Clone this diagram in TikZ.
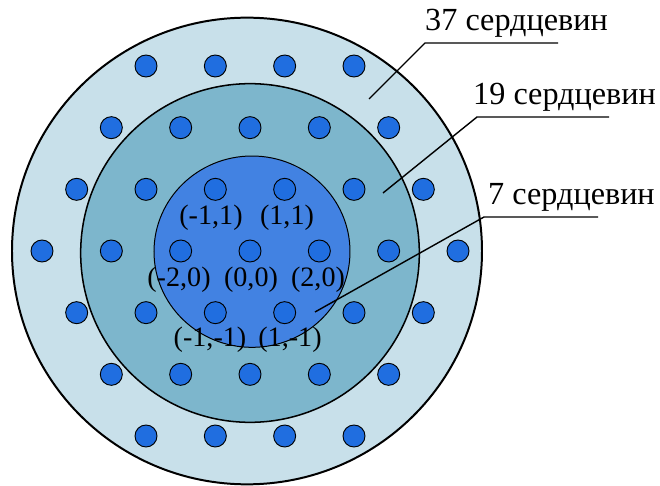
\documentclass[tikz,border=0pt]{standalone}
\usepackage{fontspec}
\setmainfont{Liberation Serif}
\usepackage{tikz}
\usetikzlibrary{positioning,calc}
\definecolor{ringout}{HTML}{C8E0EA}
\definecolor{ringmid}{HTML}{7DB6CC}
\definecolor{ringin}{HTML}{4282E2}
\definecolor{coreblue}{HTML}{206EE0}

\begin{document}
\begin{tikzpicture}[
  core/.style={circle, draw=black, line width=0.8pt, fill=coreblue, minimum size=0.66cm, inner sep=0pt},
  coordlbl/.style={font=\fontsize{24}{28}\selectfont, inner sep=0pt},
  countlbl/.style={font=\fontsize{27.5}{32}\selectfont, inner sep=0pt, anchor=west},
  leader/.style={line width=1.2pt}
]
  \useasboundingbox (-7.5,7.53) rectangle (12.3,-7.05);

  % cladding zones
  \draw[line width=1.7pt, fill=ringout] (-0.09,0) ellipse (7.05cm and 7.0cm);
  \draw[line width=1.3pt, fill=ringmid] (0,-0.06) circle (5.08cm);
  \draw[line width=0.85pt, fill=ringin] (0.06,-0.02) ellipse (2.94cm and 2.87cm);

  % 37 cores on a hexagonal grid
  \foreach \j in {-3,...,3} {
    \pgfmathtruncatemacro{\n}{7-abs(\j)}
    \foreach \i in {1,...,\n} {
      \node[core] (c\j-\i) at ({(\i-(\n+1)/2)*2.08}, {-\j*1.85}) {};
    }
  }

  % core coordinates
  \node[coordlbl] (lbla) at (-1.17,0.99) {(-1,1)};
  \node[coordlbl] (lblb) at (1.11,0.99) {(1,1)};
  \node[coordlbl] (lblc) at (-2.13,-0.87) {(-2,0)};
  \node[coordlbl] (lbld) at (0.03,-0.87) {(0,0)};
  \node[coordlbl] (lble) at (2.04,-0.87) {(2,0)};
  \node[coordlbl] (lblf) at (-1.2,-2.67) {(-1,-1)};
  \node[coordlbl] (lblg) at (1.2,-2.67) {(1,-1)};

  % callouts
  \node[countlbl] (n37) at (5.25,6.84) {37 сердцевин};
  \node[countlbl] (n19) at (6.69,4.62) {19 сердцевин};
  \node[countlbl] (n7) at (7.14,1.62) {7 сердцевин};

  \coordinate (k37) at (5.25,6.24);
  \coordinate (e37) at (9.24,6.24);
  \coordinate (p37) at (3.57,4.56);
  \coordinate (k19) at (6.81,4.02);
  \coordinate (e19) at (10.77,4.02);
  \coordinate (p19) at (3.99,1.74);
  \coordinate (k7) at (7.02,1.02);
  \coordinate (e7) at (10.44,1.02);
  \coordinate (p7) at (1.95,-1.83);

  \draw[leader] (p37) -- (k37) -- (e37);
  \draw[leader] (p19) -- (k19) -- (e19);
  \draw[leader] (p7) -- (k7) -- (e7);
\end{tikzpicture}
\end{document}
